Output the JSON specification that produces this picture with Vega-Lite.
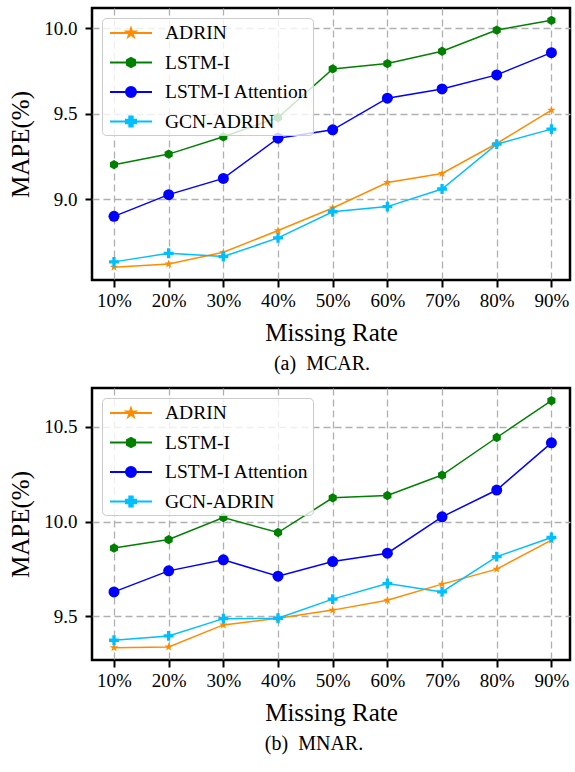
{
  "$schema": "https://vega.github.io/schema/vega-lite/v6.json",
  "background": "white",
  "padding": {"left": 7, "top": 6, "right": 0, "bottom": 2},
  "spacing": 10,
  "datasets": {
    "mcar": [
      {"method": "ADRIN", "rate": 10, "mape": 8.602},
      {"method": "ADRIN", "rate": 20, "mape": 8.621},
      {"method": "ADRIN", "rate": 30, "mape": 8.689},
      {"method": "ADRIN", "rate": 40, "mape": 8.816},
      {"method": "ADRIN", "rate": 50, "mape": 8.948},
      {"method": "ADRIN", "rate": 60, "mape": 9.097},
      {"method": "ADRIN", "rate": 70, "mape": 9.150},
      {"method": "ADRIN", "rate": 80, "mape": 9.325},
      {"method": "ADRIN", "rate": 90, "mape": 9.520},
      {"method": "LSTM-I", "rate": 10, "mape": 9.201},
      {"method": "LSTM-I", "rate": 20, "mape": 9.263},
      {"method": "LSTM-I", "rate": 30, "mape": 9.364},
      {"method": "LSTM-I", "rate": 40, "mape": 9.477},
      {"method": "LSTM-I", "rate": 50, "mape": 9.761},
      {"method": "LSTM-I", "rate": 60, "mape": 9.792},
      {"method": "LSTM-I", "rate": 70, "mape": 9.864},
      {"method": "LSTM-I", "rate": 80, "mape": 9.988},
      {"method": "LSTM-I", "rate": 90, "mape": 10.045},
      {"method": "LSTM-I Attention", "rate": 10, "mape": 8.899},
      {"method": "LSTM-I Attention", "rate": 20, "mape": 9.026},
      {"method": "LSTM-I Attention", "rate": 30, "mape": 9.121},
      {"method": "LSTM-I Attention", "rate": 40, "mape": 9.356},
      {"method": "LSTM-I Attention", "rate": 50, "mape": 9.405},
      {"method": "LSTM-I Attention", "rate": 60, "mape": 9.590},
      {"method": "LSTM-I Attention", "rate": 70, "mape": 9.644},
      {"method": "LSTM-I Attention", "rate": 80, "mape": 9.726},
      {"method": "LSTM-I Attention", "rate": 90, "mape": 9.856},
      {"method": "GCN-ADRIN", "rate": 10, "mape": 8.633},
      {"method": "GCN-ADRIN", "rate": 20, "mape": 8.683},
      {"method": "GCN-ADRIN", "rate": 30, "mape": 8.664},
      {"method": "GCN-ADRIN", "rate": 40, "mape": 8.773},
      {"method": "GCN-ADRIN", "rate": 50, "mape": 8.926},
      {"method": "GCN-ADRIN", "rate": 60, "mape": 8.956},
      {"method": "GCN-ADRIN", "rate": 70, "mape": 9.059},
      {"method": "GCN-ADRIN", "rate": 80, "mape": 9.321},
      {"method": "GCN-ADRIN", "rate": 90, "mape": 9.409}
    ],
    "mnar": [
      {"method": "ADRIN", "rate": 10, "mape": 9.335},
      {"method": "ADRIN", "rate": 20, "mape": 9.339},
      {"method": "ADRIN", "rate": 30, "mape": 9.455},
      {"method": "ADRIN", "rate": 40, "mape": 9.490},
      {"method": "ADRIN", "rate": 50, "mape": 9.533},
      {"method": "ADRIN", "rate": 60, "mape": 9.585},
      {"method": "ADRIN", "rate": 70, "mape": 9.670},
      {"method": "ADRIN", "rate": 80, "mape": 9.749},
      {"method": "ADRIN", "rate": 90, "mape": 9.902},
      {"method": "LSTM-I", "rate": 10, "mape": 9.860},
      {"method": "LSTM-I", "rate": 20, "mape": 9.905},
      {"method": "LSTM-I", "rate": 30, "mape": 10.021},
      {"method": "LSTM-I", "rate": 40, "mape": 9.942},
      {"method": "LSTM-I", "rate": 50, "mape": 10.125},
      {"method": "LSTM-I", "rate": 60, "mape": 10.137},
      {"method": "LSTM-I", "rate": 70, "mape": 10.245},
      {"method": "LSTM-I", "rate": 80, "mape": 10.443},
      {"method": "LSTM-I", "rate": 90, "mape": 10.637},
      {"method": "LSTM-I Attention", "rate": 10, "mape": 9.629},
      {"method": "LSTM-I Attention", "rate": 20, "mape": 9.740},
      {"method": "LSTM-I Attention", "rate": 30, "mape": 9.798},
      {"method": "LSTM-I Attention", "rate": 40, "mape": 9.712},
      {"method": "LSTM-I Attention", "rate": 50, "mape": 9.789},
      {"method": "LSTM-I Attention", "rate": 60, "mape": 9.833},
      {"method": "LSTM-I Attention", "rate": 70, "mape": 10.025},
      {"method": "LSTM-I Attention", "rate": 80, "mape": 10.166},
      {"method": "LSTM-I Attention", "rate": 90, "mape": 10.415},
      {"method": "GCN-ADRIN", "rate": 10, "mape": 9.374},
      {"method": "GCN-ADRIN", "rate": 20, "mape": 9.397},
      {"method": "GCN-ADRIN", "rate": 30, "mape": 9.488},
      {"method": "GCN-ADRIN", "rate": 40, "mape": 9.490},
      {"method": "GCN-ADRIN", "rate": 50, "mape": 9.591},
      {"method": "GCN-ADRIN", "rate": 60, "mape": 9.673},
      {"method": "GCN-ADRIN", "rate": 70, "mape": 9.629},
      {"method": "GCN-ADRIN", "rate": 80, "mape": 9.815},
      {"method": "GCN-ADRIN", "rate": 90, "mape": 9.916}
    ]
  },
  "config": {
    "font": "Liberation Serif",
    "view": {"stroke": "black", "strokeWidth": 2.5},
    "axis": {
      "domain": false,
      "grid": true,
      "gridColor": "#b0b0b0",
      "gridDash": [7, 4],
      "gridWidth": 1.3,
      "gridOpacity": 1,
      "tickColor": "black",
      "tickSize": 7,
      "tickWidth": 2,
      "labelFont": "Liberation Serif",
      "labelFontSize": 19,
      "labelColor": "black",
      "titleFont": "Liberation Serif",
      "titleFontSize": 25,
      "titleFontWeight": "normal",
      "titleColor": "black"
    },
    "legend": {
      "orient": "top-left",
      "offset": 10,
      "padding": 4,
      "fillColor": "rgba(255,255,255,0.8)",
      "strokeColor": "#cccccc",
      "cornerRadius": 4,
      "labelFont": "Liberation Serif",
      "labelFontSize": 19.5,
      "labelColor": "black",
      "labelLimit": 300,
      "symbolSize": 400,
      "symbolOffset": 14,
      "labelOffset": 23,
      "rowPadding": 8.5
    }
  },
  "resolve": {
    "scale": {"color": "independent", "x": "independent", "y": "independent"},
    "legend": {"color": "independent"}
  },
  "vconcat": [
    {
      "width": 478,
      "height": 272,
      "data": {"name": "mcar"},
      "title": {"text": "(a)\u2002MCAR.", "orient": "bottom", "fontSize": 20, "fontWeight": "normal", "font": "Liberation Serif", "color": "black", "dx": -9, "offset": 9},
      "encoding": {
        "x": {"field": "rate", "type": "quantitative", "scale": {"domain": [5.98, 93.4], "nice": false, "zero": false},
              "axis": {"values": [10, 20, 30, 40, 50, 60, 70, 80, 90], "labelExpr": "datum.value + '%'", "title": "Missing Rate", "labelPadding": 4, "titlePadding": 10}},
        "y": {"field": "mape", "type": "quantitative", "scale": {"domain": [8.527, 10.117], "nice": false, "zero": false},
              "axis": {"values": [9.0, 9.5, 10.0], "format": ".1f", "title": "MAPE(%)", "labelPadding": 8, "titlePadding": 10}}
      },
      "layer": [
        {"mark": {"type": "line", "strokeWidth": 1.5},
         "encoding": {
          "color": {"field": "method", "type": "nominal",
                  "scale": {"domain": ["ADRIN", "LSTM-I", "LSTM-I Attention", "GCN-ADRIN"], "range": ["#ff8c00", "#008000", "#0000ff", "#00bfff"]},
                  "legend": {"title": null,
                    "encode": {"symbols": {"update": {
                      "shape": {"signal": "datum.value === 'ADRIN' ? 'M-2.1,0H2.1M0,-0.45L0.1,-0.138L0.428,-0.139L0.162,0.053L0.265,0.364L0,0.17L-0.265,0.364L-0.162,0.053L-0.428,-0.139L-0.1,-0.138Z' : datum.value === 'LSTM-I' ? 'M-2.1,0H2.1M0,-0.47L0.407,-0.235L0.407,0.235L0,0.47L-0.407,0.235L-0.407,-0.235Z' : datum.value === 'LSTM-I Attention' ? 'M-2.1,0H2.1M0.5,0A0.5,0.5,0,1,1,-0.5,0A0.5,0.5,0,1,1,0.5,0Z' : 'M-2.1,0H2.1M-0.17,-0.5H0.17V-0.17H0.5V0.17H0.17V0.5H-0.17V0.17H-0.5V-0.17H-0.17Z'"},
                      "fill": {"signal": "datum.value === 'ADRIN' ? '#ff8c00' : datum.value === 'LSTM-I' ? '#008000' : datum.value === 'LSTM-I Attention' ? '#0000ff' : '#00bfff'"},
                      "stroke": {"signal": "datum.value === 'ADRIN' ? '#ff8c00' : datum.value === 'LSTM-I' ? '#008000' : datum.value === 'LSTM-I Attention' ? '#0000ff' : '#00bfff'"},
                      "strokeWidth": {"value": 2},
                      "opacity": {"value": 1},
                      "size": {"value": 400}
                    }}}}}
         }},
        {"transform": [{"filter": "datum.method === 'ADRIN'"}],
         "mark": {"type": "point", "filled": true, "opacity": 1, "size": 121, "color": "#ff8c00",
                  "shape": "M0,-0.82L0.183,-0.252L0.78,-0.253L0.297,0.097L0.482,0.663L0,0.312L-0.482,0.663L-0.297,0.097L-0.78,-0.253L-0.183,-0.252Z"}},
        {"transform": [{"filter": "datum.method === 'LSTM-I'"}],
         "mark": {"type": "point", "filled": true, "opacity": 1, "size": 121, "color": "#008000",
                  "shape": "M0,-0.85L0.736,-0.425L0.736,0.425L0,0.85L-0.736,0.425L-0.736,-0.425Z"}},
        {"transform": [{"filter": "datum.method === 'LSTM-I Attention'"}],
         "mark": {"type": "point", "filled": true, "opacity": 1, "size": 121, "color": "#0000ff", "shape": "circle"}},
        {"transform": [{"filter": "datum.method === 'GCN-ADRIN'"}],
         "mark": {"type": "point", "filled": true, "opacity": 1, "size": 121, "color": "#00bfff",
                  "shape": "M-0.3,-0.9H0.3V-0.3H0.9V0.3H0.3V0.9H-0.3V0.3H-0.9V-0.3H-0.3Z"}}
      ]
    },
    {
      "width": 478,
      "height": 272,
      "data": {"name": "mnar"},
      "title": {"text": "(b)\u2002MNAR.", "orient": "bottom", "fontSize": 20, "fontWeight": "normal", "font": "Liberation Serif", "color": "black", "dx": -17, "offset": 9},
      "encoding": {
        "x": {"field": "rate", "type": "quantitative", "scale": {"domain": [5.98, 93.4], "nice": false, "zero": false},
              "axis": {"values": [10, 20, 30, 40, 50, 60, 70, 80, 90], "labelExpr": "datum.value + '%'", "title": "Missing Rate", "labelPadding": 4, "titlePadding": 10}},
        "y": {"field": "mape", "type": "quantitative", "scale": {"domain": [9.27, 10.704], "nice": false, "zero": false},
              "axis": {"values": [9.5, 10.0, 10.5], "format": ".1f", "title": "MAPE(%)", "labelPadding": 8, "titlePadding": 10}}
      },
      "layer": [
        {"mark": {"type": "line", "strokeWidth": 1.5},
         "encoding": {
          "color": {"field": "method", "type": "nominal",
                  "scale": {"domain": ["ADRIN", "LSTM-I", "LSTM-I Attention", "GCN-ADRIN"], "range": ["#ff8c00", "#008000", "#0000ff", "#00bfff"]},
                  "legend": {"title": null,
                    "encode": {"symbols": {"update": {
                      "shape": {"signal": "datum.value === 'ADRIN' ? 'M-2.1,0H2.1M0,-0.45L0.1,-0.138L0.428,-0.139L0.162,0.053L0.265,0.364L0,0.17L-0.265,0.364L-0.162,0.053L-0.428,-0.139L-0.1,-0.138Z' : datum.value === 'LSTM-I' ? 'M-2.1,0H2.1M0,-0.47L0.407,-0.235L0.407,0.235L0,0.47L-0.407,0.235L-0.407,-0.235Z' : datum.value === 'LSTM-I Attention' ? 'M-2.1,0H2.1M0.5,0A0.5,0.5,0,1,1,-0.5,0A0.5,0.5,0,1,1,0.5,0Z' : 'M-2.1,0H2.1M-0.17,-0.5H0.17V-0.17H0.5V0.17H0.17V0.5H-0.17V0.17H-0.5V-0.17H-0.17Z'"},
                      "fill": {"signal": "datum.value === 'ADRIN' ? '#ff8c00' : datum.value === 'LSTM-I' ? '#008000' : datum.value === 'LSTM-I Attention' ? '#0000ff' : '#00bfff'"},
                      "stroke": {"signal": "datum.value === 'ADRIN' ? '#ff8c00' : datum.value === 'LSTM-I' ? '#008000' : datum.value === 'LSTM-I Attention' ? '#0000ff' : '#00bfff'"},
                      "strokeWidth": {"value": 2},
                      "opacity": {"value": 1},
                      "size": {"value": 400}
                    }}}}}
         }},
        {"transform": [{"filter": "datum.method === 'ADRIN'"}],
         "mark": {"type": "point", "filled": true, "opacity": 1, "size": 121, "color": "#ff8c00",
                  "shape": "M0,-0.82L0.183,-0.252L0.78,-0.253L0.297,0.097L0.482,0.663L0,0.312L-0.482,0.663L-0.297,0.097L-0.78,-0.253L-0.183,-0.252Z"}},
        {"transform": [{"filter": "datum.method === 'LSTM-I'"}],
         "mark": {"type": "point", "filled": true, "opacity": 1, "size": 121, "color": "#008000",
                  "shape": "M0,-0.85L0.736,-0.425L0.736,0.425L0,0.85L-0.736,0.425L-0.736,-0.425Z"}},
        {"transform": [{"filter": "datum.method === 'LSTM-I Attention'"}],
         "mark": {"type": "point", "filled": true, "opacity": 1, "size": 121, "color": "#0000ff", "shape": "circle"}},
        {"transform": [{"filter": "datum.method === 'GCN-ADRIN'"}],
         "mark": {"type": "point", "filled": true, "opacity": 1, "size": 121, "color": "#00bfff",
                  "shape": "M-0.3,-0.9H0.3V-0.3H0.9V0.3H0.3V0.9H-0.3V0.3H-0.9V-0.3H-0.3Z"}}
      ]
    }
  ]
}
